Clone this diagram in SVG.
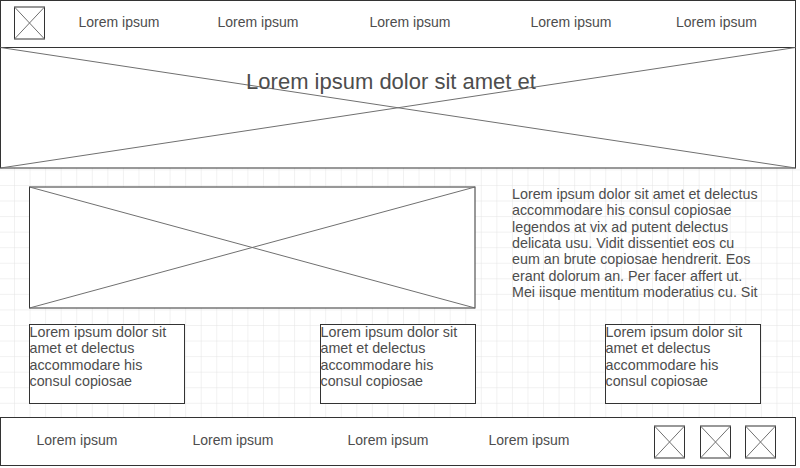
<svg xmlns="http://www.w3.org/2000/svg" width="800" height="468" viewBox="0 0 800 468">
<style>
.box{fill:#fff;stroke:#333;stroke-width:1}
.x{stroke:#707070;stroke-width:1;fill:none}
.t{font-family:"Liberation Sans",Arial,sans-serif;font-size:14px;fill:#4d4d4d}
.b{font-size:14.3px}
.c{text-anchor:middle}
</style>
<defs>
<pattern id="grid" x="14" y="169.4" width="15.56" height="15.56" patternUnits="userSpaceOnUse">
<path d="M0 0H15.56M0 0V15.56" stroke="#e3e3e3" stroke-width="1" fill="none"/>
</pattern>
<g id="xicon">
<rect width="30" height="32" class="box"/>
<path d="M0 0L30 32M30 0L0 32" class="x"/>
</g>
</defs>
<rect width="800" height="468" fill="#fff"/>
<rect x="0" y="168" width="800" height="250" fill="url(#grid)"/>

<g id="header">
<rect x="0.5" y="0.5" width="795" height="47" class="box"/>
<use href="#xicon" x="14.5" y="7"/>
<text class="t c" x="119" y="27">Lorem ipsum</text>
<text class="t c" x="258" y="27">Lorem ipsum</text>
<text class="t c" x="410" y="27">Lorem ipsum</text>
<text class="t c" x="571" y="27">Lorem ipsum</text>
<text class="t c" x="716.5" y="27">Lorem ipsum</text>
</g>

<g id="banner">
<rect x="0.5" y="47.5" width="795" height="120.5" class="box"/>
<path d="M0.5 47.5L795.5 168M795.5 47.5L0.5 168" class="x"/>
<text class="t c" x="391" y="89" style="font-size:22px">Lorem ipsum dolor sit amet et</text>
</g>

<g id="main-image">
<rect x="29.5" y="187" width="445.5" height="121" class="box"/>
<path d="M29.5 187L475 308M475 187L29.5 308" class="x"/>
</g>

<g id="paragraph">
<text class="t b" x="512" y="199">Lorem ipsum dolor sit amet et delectus</text>
<text class="t b" x="512" y="215.3">accommodare his consul copiosae</text>
<text class="t b" x="512" y="231.6">legendos at vix ad putent delectus</text>
<text class="t b" x="512" y="247.9">delicata usu. Vidit dissentiet eos cu</text>
<text class="t b" x="512" y="264.2">eum an brute copiosae hendrerit. Eos</text>
<text class="t b" x="512" y="280.5">erant dolorum an. Per facer affert ut.</text>
<text class="t b" x="512" y="296.8">Mei iisque mentitum moderatius cu. Sit</text>
</g>

<g id="card1">
<rect x="29.5" y="324.5" width="155" height="79" class="box"/>
<text class="t b" x="29.5" y="336.8">Lorem ipsum dolor sit</text>
<text class="t b" x="29.5" y="353.3">amet et delectus</text>
<text class="t b" x="29.5" y="369.8">accommodare his</text>
<text class="t b" x="29.5" y="386.3">consul copiosae</text>
</g>
<g id="card2">
<rect x="320.5" y="324.5" width="155" height="79" class="box"/>
<text class="t b" x="320.5" y="336.8">Lorem ipsum dolor sit</text>
<text class="t b" x="320.5" y="353.3">amet et delectus</text>
<text class="t b" x="320.5" y="369.8">accommodare his</text>
<text class="t b" x="320.5" y="386.3">consul copiosae</text>
</g>
<g id="card3">
<rect x="605.5" y="324.5" width="155" height="79" class="box"/>
<text class="t b" x="605.5" y="336.8">Lorem ipsum dolor sit</text>
<text class="t b" x="605.5" y="353.3">amet et delectus</text>
<text class="t b" x="605.5" y="369.8">accommodare his</text>
<text class="t b" x="605.5" y="386.3">consul copiosae</text>
</g>

<g id="footer">
<rect x="0.5" y="417.5" width="795" height="48" class="box"/>
<text class="t c" x="77" y="445">Lorem ipsum</text>
<text class="t c" x="233" y="445">Lorem ipsum</text>
<text class="t c" x="388" y="445">Lorem ipsum</text>
<text class="t c" x="529" y="445">Lorem ipsum</text>
<use href="#xicon" x="654.5" y="426"/>
<use href="#xicon" x="700.5" y="426"/>
<use href="#xicon" x="745.5" y="426"/>
</g>
<g id="connectors"/>
</svg>
